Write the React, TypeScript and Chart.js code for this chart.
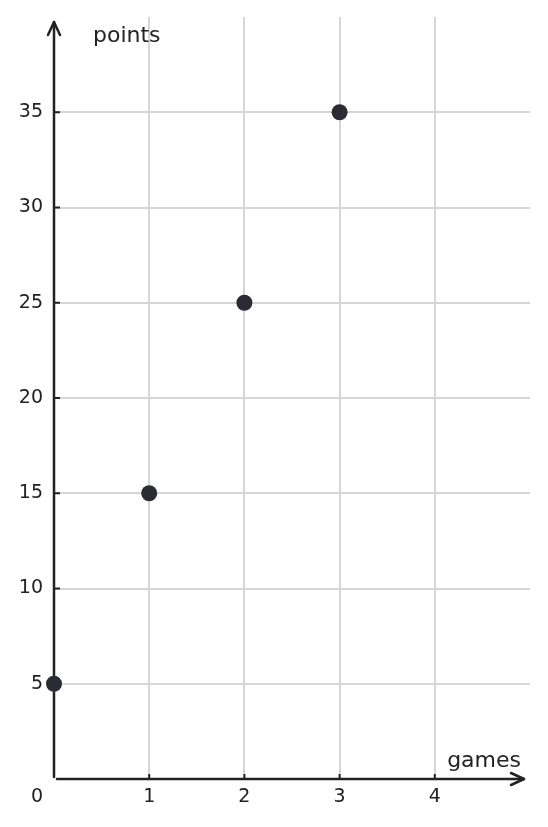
import { useEffect, useRef } from "react";
import { Chart, registerables } from "chart.js";

Chart.register(...registerables);

// data
const games = [0, 1, 2, 3];
const points = [5, 15, 25, 35];
const xTickValues = [1, 2, 3, 4];
const yTickValues = [5, 10, 15, 20, 25, 30, 35];
const xTitle = "games";
const yTitle = "points";

const INK = "#222222";
const FONT = "'DejaVu Sans', sans-serif";

// draws the arrowed axes, tick marks, tick labels and titles
const axesPlugin = {
  id: "arrowAxes",
  beforeDatasetsDraw(chart: Chart) {
    const { ctx, chartArea } = chart;
    const xs = chart.scales.x;
    const ys = chart.scales.y;
    const x0 = xs.getPixelForValue(0);
    const y0 = ys.getPixelForValue(0);

    ctx.save();
    ctx.strokeStyle = INK;
    ctx.fillStyle = INK;
    ctx.lineCap = "round";
    ctx.lineJoin = "round";

    // axis lines
    ctx.lineWidth = 2.5;
    ctx.beginPath();
    ctx.moveTo(x0, chartArea.top + 5);
    ctx.lineTo(x0, y0 - 2);
    ctx.moveTo(x0 + 3, y0);
    ctx.lineTo(chartArea.right - 6, y0);
    ctx.stroke();

    // arrow heads
    ctx.beginPath();
    ctx.moveTo(x0 - 6, chartArea.top + 18);
    ctx.lineTo(x0, chartArea.top + 5);
    ctx.lineTo(x0 + 6, chartArea.top + 18);
    ctx.moveTo(chartArea.right - 19, y0 - 6);
    ctx.lineTo(chartArea.right - 6, y0);
    ctx.lineTo(chartArea.right - 19, y0 + 6);
    ctx.stroke();

    // tick marks
    ctx.lineWidth = 2;
    ctx.lineCap = "butt";
    ctx.beginPath();
    yTickValues.forEach((v) => {
      const py = ys.getPixelForValue(v);
      ctx.moveTo(x0, py);
      ctx.lineTo(x0 + 6, py);
    });
    xTickValues.forEach((v) => {
      const px = xs.getPixelForValue(v);
      ctx.moveTo(px, y0);
      ctx.lineTo(px, y0 - 5);
    });
    ctx.stroke();

    // tick labels
    ctx.font = `19px ${FONT}`;
    ctx.textBaseline = "middle";
    ctx.textAlign = "right";
    yTickValues.forEach((v) => {
      ctx.fillText(String(v), x0 - 11, ys.getPixelForValue(v));
    });
    ctx.fillText("0", x0 - 11, y0 + 18);
    ctx.textAlign = "center";
    xTickValues.forEach((v) => {
      ctx.fillText(String(v), xs.getPixelForValue(v), y0 + 18);
    });

    // axis titles
    ctx.font = `22px ${FONT}`;
    ctx.textBaseline = "alphabetic";
    ctx.textAlign = "left";
    ctx.fillText(yTitle, x0 + 39, chartArea.top + 25);
    ctx.textAlign = "right";
    ctx.fillText(xTitle, chartArea.right - 9, y0 - 12);

    ctx.restore();
  },
};

const App = () => {
  const canvasRef = useRef<HTMLCanvasElement | null>(null);

  useEffect(() => {
    document.body.style.margin = "0";
    if (!canvasRef.current) return;

    const gridColor = (edge: number[]) => (c: any) =>
      edge.includes(c.tick?.value) ? "rgba(0,0,0,0)" : "#d6d6d6";

    const chart = new Chart(canvasRef.current, {
      type: "scatter",
      data: {
        datasets: [
          {
            data: games.map((g, i) => ({ x: g, y: points[i] })),
            backgroundColor: "#2b2b33",
            borderWidth: 0,
            pointRadius: 8,
            pointHoverRadius: 8,
            clip: false,
          },
        ],
      },
      options: {
        animation: false,
        responsive: true,
        maintainAspectRatio: false,
        layout: { padding: { left: 54, right: 18, top: 17, bottom: 48 } },
        plugins: { legend: { display: false }, tooltip: { enabled: false } },
        scales: {
          x: {
            type: "linear",
            min: 0,
            max: 5,
            ticks: { display: false, stepSize: 1 },
            border: { display: false },
            grid: { drawTicks: false, lineWidth: 2, color: gridColor([0, 5]) },
          },
          y: {
            type: "linear",
            min: 0,
            max: 40,
            ticks: { display: false, stepSize: 5 },
            border: { display: false },
            grid: { drawTicks: false, lineWidth: 2, color: gridColor([0, 40]) },
          },
        },
      },
      plugins: [axesPlugin],
    });

    return () => {
      chart.destroy();
    };
  }, []);

  return (
    <div style={{ position: "relative", width: 548, height: 827 }}>
      <canvas ref={canvasRef}></canvas>
    </div>
  );
};

export default App;
